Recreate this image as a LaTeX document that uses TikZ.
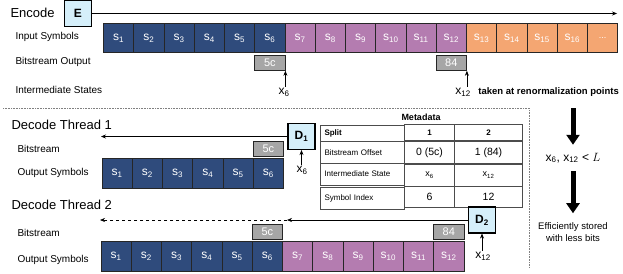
\documentclass[tikz,border=0pt]{standalone}
\usepackage{fontspec}
\setmainfont{Liberation Sans}
\usetikzlibrary{arrows.meta}
\usetikzlibrary{positioning}
\usetikzlibrary{matrix}
\definecolor{symblue}{HTML}{2F4B7C}
\definecolor{sympurple}{HTML}{B47CB0}
\definecolor{symorange}{HTML}{F4A672}
\definecolor{bitgray}{HTML}{A6A6A6}
\definecolor{coderblue}{HTML}{D5EFFA}

\begin{document}
\begin{tikzpicture}[x=1pt,y=-1pt,
  sym/.style={draw=black!85,line width=0.9pt,minimum width=30.25pt,minimum height=29pt,inner sep=0pt,anchor=north west,text=white,font=\fontsize{12}{13}\selectfont},
  bits/.style={draw=black!85,line width=0.9pt,fill=bitgray,minimum width=30.25pt,minimum height=15pt,inner sep=0pt,text=white,font=\fontsize{11}{12}\selectfont},
  coder/.style={draw,line width=1.1pt,fill=coderblue,minimum width=27pt,minimum height=26pt,inner sep=0pt,font=\fontsize{12}{13}\selectfont\bfseries},
  title/.style={anchor=west,font=\fontsize{13}{15}\selectfont},
  lbl/.style={anchor=west,font=\fontsize{10}{12}\selectfont},
  state/.style={font=\fontsize{12}{13}\selectfont,inner sep=1pt},
  num/.style={font=\fontsize{10.5}{12}\selectfont},
  flow/.style={-{Stealth[length=5pt,width=4pt]},line width=0.6pt},
  big/.style={line width=5pt,-{Triangle[length=10pt,width=13pt]}}]
\useasboundingbox (0,0) rectangle (623,273);

% encoder
\node[title] (enc) at (7,13) {Encode};
\node[coder] (E) at (78,13.5) {E};
\coordinate (encend) at (617,13);
\draw[flow] (E.east) -- (E.east -| encend);
\foreach \i in {1,...,6}
  \node[sym,fill=symblue] (e\i) at ({103+30.25*(\i-1)},23) {s\textsubscript{\i}};
\foreach \i in {7,...,12}
  \node[sym,fill=sympurple] (e\i) at ({103+30.25*(\i-1)},23) {s\textsubscript{\i}};
\foreach \i in {13,...,16}
  \node[sym,fill=symorange] (e\i) at ({103+30.25*(\i-1)},23) {s\textsubscript{\i}};
\node[sym,fill=symorange,font=\fontsize{9}{10}\selectfont] (e17) at ({103+30.25*16},23) {...};
\node[bits,anchor=north] (b6) at ([yshift=-2pt]e6.south) {5c};
\node[bits,anchor=north] (b12) at ([yshift=-2pt]e12.south) {84};
\node[state] (x6) at (284,92) {x\textsubscript{6}};
\draw[flow] (x6.north -| b6.south east) -- (b6.south east);
\node[state] (x12) at (463,92) {x\textsubscript{12}};
\draw[flow] (x12.north -| b12.south east) -- (b12.south east);
\node[anchor=base west,font=\fontsize{9.5}{11}\selectfont\bfseries] (renorm) at ([xshift=3pt]x12.base east) {taken at renormalization points};
\node[lbl] (insym) at (12,37) {Input Symbols};
\node[lbl] (bitout) at (12,62) {Bitstream Output};
\node[lbl] (inter) at (12,90) {Intermediate States};

\draw[densely dotted,gray,line width=0.6pt] (3,108) -| (529,268);

% decode thread 1
\node[title] (dec1) at (8,125) {Decode Thread 1};
\node[coder] (D1) at (301.5,136.5) {D\textsubscript{1}};
\coordinate (d1end) at (101,138);
\draw[flow] (D1.west) -- (D1.west -| d1end);
\foreach \i in {1,...,6}
  \node[sym,fill=symblue,minimum height=30pt] (p\i) at ({101.5+30.25*(\i-1)},158) {s\textsubscript{\i}};
\node[bits,anchor=south] (pb6) at ([yshift=1pt]p6.north) {5c};
\node[state] (px6) at (302,170) {x\textsubscript{6}};
\draw[flow] (px6.north -| D1.south) -- (D1.south);
\node[lbl] (bs1) at (14,149) {Bitstream};
\node[lbl] (out1) at (14,173) {Output Symbols};

% metadata
\node[font=\fontsize{9}{10}\selectfont\bfseries] (metatitle) at (421,117) {Metadata};
\matrix (meta) [matrix of nodes,anchor=north west,inner sep=0pt,
  column sep=-0.6pt,row sep=-0.6pt,
  nodes={draw=black!70,line width=0.6pt,inner sep=0pt,font=\fontsize{8}{9}\selectfont},
  column 1/.style={nodes={text width=76pt,align=left,inner xsep=4pt}},
  column 2/.style={nodes={minimum width=50pt}},
  column 3/.style={nodes={minimum width=68pt}},
  row 1/.style={nodes={minimum height=16pt,font=\fontsize{8}{9}\selectfont\bfseries}},
  row 2/.style={nodes={minimum height=22pt}},
  row 3/.style={nodes={minimum height=21.5pt}},
  row 4/.style={nodes={minimum height=21.5pt}}] at (320,124) {
  Split & 1 & 2 \\
  Bitstream Offset & |[num]| 0 (5c) & |[num]| 1 (84) \\
  Intermediate State & |[font=\fontsize{9}{10}\selectfont]| x\textsubscript{6} & |[font=\fontsize{9}{10}\selectfont]| x\textsubscript{12} \\
  Symbol Index & |[num]| 6 & |[num]| 12 \\
};

% decode thread 2
\node[title] (dec2) at (8,205) {Decode Thread 2};
\node[coder] (D2) at (482,220) {D\textsubscript{2}};
\coordinate (d2mid) at (287,222);
\coordinate (d2end) at (100,222);
\draw[flow] (D2.west) -- (D2.west -| d2mid);
\draw[flow,dashed] (D2.west -| d2mid) -- (D2.west -| d2end);
\foreach \i in {1,...,6}
  \node[sym,fill=symblue,minimum height=30pt] (q\i) at ({100.5+30.25*(\i-1)},241) {s\textsubscript{\i}};
\foreach \i in {7,...,12}
  \node[sym,fill=sympurple,minimum height=30pt] (q\i) at ({100.5+30.25*(\i-1)},241) {s\textsubscript{\i}};
\node[bits,anchor=south] (qb6) at ([yshift=1pt]q6.north) {5c};
\node[bits,anchor=south] (qb12) at ([yshift=1pt]q12.north) {84};
\node[state] (qx12) at (483,256) {x\textsubscript{12}};
\draw[flow] (qx12.north -| D2.south) -- (D2.south);
\node[lbl] (bs2) at (14,233) {Bitstream};
\node[lbl] (out2) at (14,260) {Output Symbols};

% right side
\coordinate (bigtop) at (573,108);
\node[state] (cond) at (573,158) {x\textsubscript{6}, x\textsubscript{12} < $L$};
\node[align=center,font=\fontsize{9.5}{11.5}\selectfont] (eff) at (573,232) {Efficiently stored\\with less bits};
\draw[big,shorten >=7pt] (bigtop) -- (cond.north);
\draw[big,shorten <=7pt,shorten >=6pt] (cond.south) -- (eff.north);
\end{tikzpicture}
\end{document}
